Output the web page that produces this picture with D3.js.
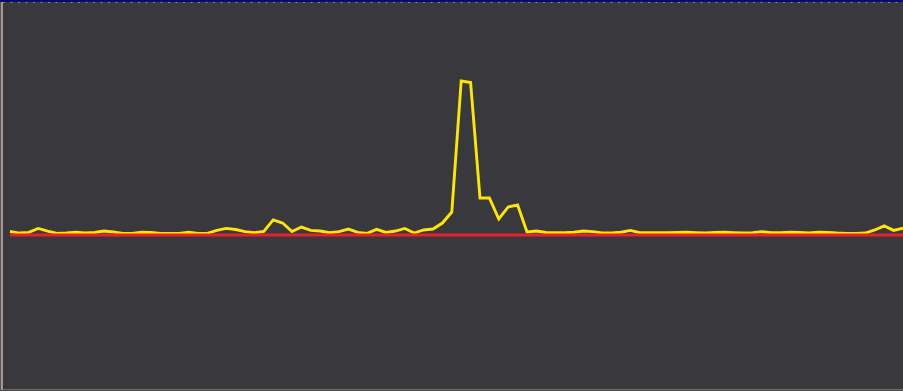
<!DOCTYPE html>
<html>
<head>
<meta charset="utf-8">
<script src="https://cdn.jsdelivr.net/npm/d3@7"></script>
<style>
  html, body { margin: 0; padding: 0; background: #38383d; }
  svg { display: block; }
</style>
</head>
<body>
<svg id="chart" width="903" height="391"></svg>
<script>
// Sample index (one sample per step across the trace)
const sampleIndex = d3.range(96);

// Signal amplitude per sample (normalised, peak ≈ 1)
const signal = [
  0.020, 0.010, 0.014, 0.040, 0.023, 0.008, 0.010, 0.015, 0.010, 0.014,
  0.023, 0.017, 0.008, 0.008, 0.015, 0.014, 0.008, 0.008, 0.008, 0.015,
  0.008, 0.008, 0.027, 0.040, 0.033, 0.019, 0.012, 0.020, 0.095, 0.075,
  0.020, 0.049, 0.027, 0.023, 0.012, 0.019, 0.036, 0.014, 0.008, 0.034,
  0.014, 0.023, 0.040, 0.010, 0.030, 0.036, 0.075, 0.146, 0.995, 0.985,
  0.237, 0.237, 0.101, 0.179, 0.192, 0.017, 0.023, 0.014, 0.012, 0.012,
  0.015, 0.023, 0.019, 0.010, 0.010, 0.015, 0.027, 0.012, 0.012, 0.012,
  0.012, 0.014, 0.015, 0.012, 0.010, 0.014, 0.015, 0.012, 0.010, 0.012,
  0.019, 0.012, 0.012, 0.015, 0.014, 0.010, 0.015, 0.014, 0.010, 0.008,
  0.008, 0.010, 0.030, 0.056, 0.027, 0.041
];

// Reference level
const baseline = [0, 0];

// Value range shown vertically
const yDomain = [-1, 1.5];

const W = 903, H = 391;
const svg = d3.select("#chart");

// Panel background and frame
svg.append("rect").attr("x", 0).attr("y", 0).attr("width", W).attr("height", H)
  .attr("fill", "#38383d");
svg.append("rect").attr("x", 0).attr("y", 0).attr("width", W).attr("height", 2)
  .attr("fill", "#0b0b6a");
svg.append("line").attr("x1", 3).attr("x2", W).attr("y1", 2.5).attr("y2", 2.5)
  .attr("stroke", "#8e8686").attr("stroke-width", 1)
  .attr("stroke-dasharray", "2,5.5");
svg.append("line").attr("x1", 0.5).attr("x2", 0.5).attr("y1", 2).attr("y2", H)
  .attr("stroke", "#5a5454").attr("stroke-width", 1);
svg.append("line").attr("x1", 2).attr("x2", 2).attr("y1", 2).attr("y2", H - 1)
  .attr("stroke", "#a39696").attr("stroke-width", 2);
svg.append("line").attr("x1", 3).attr("x2", W).attr("y1", 389.5).attr("y2", 389.5)
  .attr("stroke", "#6c6a6a").attr("stroke-width", 1);
svg.append("line").attr("x1", 3).attr("x2", W).attr("y1", 390.5).attr("y2", 390.5)
  .attr("stroke", "#4a4848").attr("stroke-width", 1);

// Scales
const x = d3.scaleLinear().domain([0, sampleIndex.length - 1]).range([10, 903]);
const y = d3.scaleLinear().domain(yDomain).range([389, 3]);

// Trace
const line = d3.line()
  .x((d, i) => x(sampleIndex[i]))
  .y(d => y(d));

svg.append("path")
  .datum(signal)
  .attr("d", line)
  .attr("fill", "none")
  .attr("stroke", "#ffe600")
  .attr("stroke-width", 2.9)
  .attr("stroke-linejoin", "miter");

// Zero line
svg.append("line")
  .attr("x1", x(0)).attr("x2", x(sampleIndex.length - 1))
  .attr("y1", y(baseline[0]) + 0.5).attr("y2", y(baseline[1]) + 0.5)
  .attr("stroke", "#e8202a")
  .attr("stroke-width", 3);
</script>
</body>
</html>
